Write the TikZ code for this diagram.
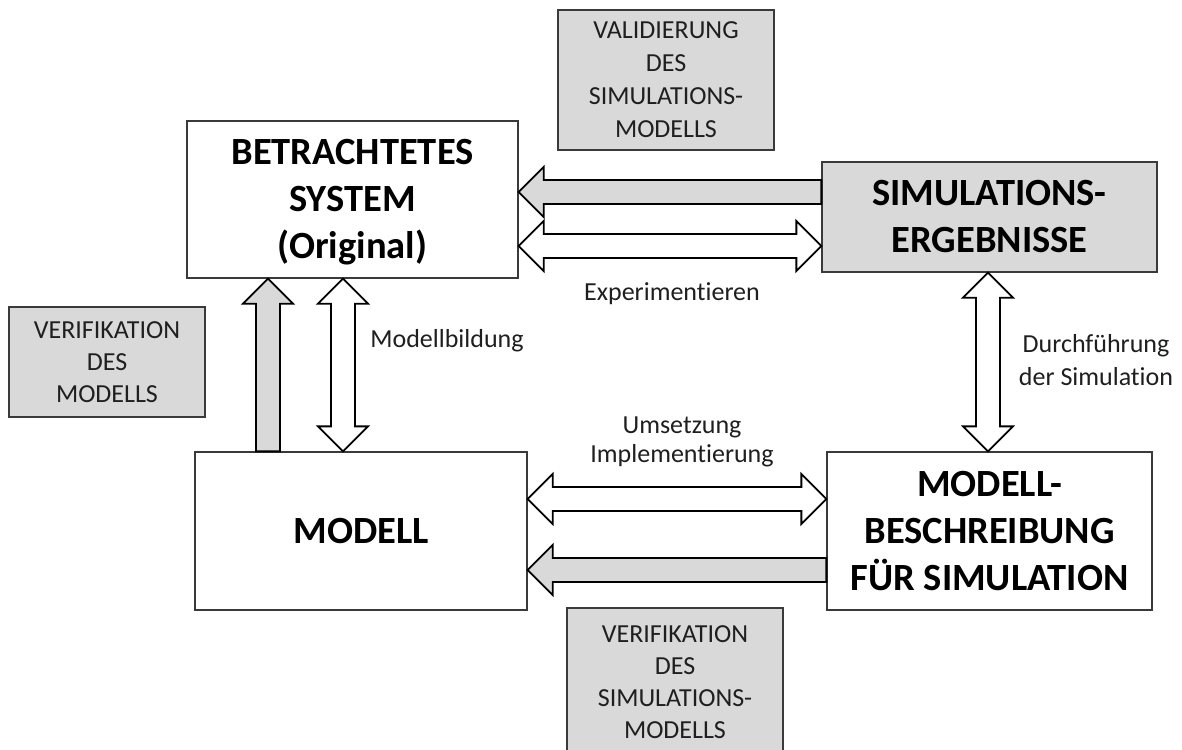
\documentclass[tikz,border=0pt]{standalone}
\usepackage{fontspec}
\setmainfont{Carlito}[Ligatures=NoCommon]
\usetikzlibrary{calc}

\definecolor{boxgray}{HTML}{D9D9D9}
\definecolor{edgegray}{HTML}{3A3A3A}

\newcommand\headfont{\fontsize{38.5}{47}\selectfont\bfseries}
\newcommand\notefont{\fontsize{26}{32}\selectfont}

% outlined block arrow with one head: #1 tail, #2 tip, #3 fill colour
\newcommand\blocksingle[3]{%
  \coordinate (hb) at ($(#2)!25pt!(#1)$);
  \draw[blockarrow, fill=#3] (#2)
    -- ($(hb)!25pt!90:(#2)$) -- ($(hb)!12pt!90:(#2)$)
    -- ($(#1)!12pt!90:(#2)$) -- ($(#1)!12pt!-90:(#2)$)
    -- ($(hb)!12pt!-90:(#2)$) -- ($(hb)!25pt!-90:(#2)$) -- cycle;}

% outlined block arrow with two heads: #1 and #2 are the tips
\newcommand\blockdouble[2]{%
  \coordinate (hbA) at ($(#1)!25pt!(#2)$);
  \coordinate (hbB) at ($(#2)!25pt!(#1)$);
  \draw[blockarrow, fill=white] (#2)
    -- ($(hbB)!25pt!90:(#2)$) -- ($(hbB)!12pt!90:(#2)$)
    -- ($(hbA)!12pt!-90:(#1)$) -- ($(hbA)!25pt!-90:(#1)$)
    -- (#1)
    -- ($(hbA)!25pt!90:(#1)$) -- ($(hbA)!12pt!90:(#1)$)
    -- ($(hbB)!12pt!-90:(#2)$) -- ($(hbB)!25pt!-90:(#2)$) -- cycle;}

\tikzset{
  mainbox/.style={draw=edgegray, line width=1.3pt, align=center, font=\headfont,
    inner sep=0pt, text=black},
  notebox/.style={draw=edgegray, fill=boxgray, line width=1.3pt, align=center,
    font=\notefont, inner sep=0pt, text=black!88},
  lbl/.style={font=\notefont, align=center, text=black!88, inner sep=0pt},
  blockarrow/.style={draw=black, line width=1.8pt, line join=miter},
}

\begin{document}
\begin{tikzpicture}[x=1pt, y=-1pt]
\useasboundingbox (0,0) rectangle (1182,749);
\clip (0,0) rectangle (1182,749);
\fill[white] (0,0) rectangle (1182,749);

% main blocks
\node[mainbox, minimum width=331pt, minimum height=157pt] (betr) at (352.5,199.5)
  {\rule{0pt}{30pt}BETRACHTETES\\SYSTEM\\(Original)};
\node[mainbox, fill=boxgray, minimum width=335pt, minimum height=110pt] (sim) at (989.5,217)
  {SIMULATIONS-\\ERGEBNISSE};
\node[mainbox, minimum width=332pt, minimum height=158pt] (modell) at (361,531)
  {MODELL};
\node[mainbox, minimum width=325pt, minimum height=158pt] (beschr) at (989.5,531)
  {MODELL-\\BESCHREIBUNG\\FÜR SIMULATION};

% grey check boxes
\node[notebox, minimum width=196pt, minimum height=110pt] (verm) at (107,362)
  {VERIFIKATION\\DES\\MODELLS};
\node[notebox, minimum width=216pt, minimum height=140pt, font=\fontsize{26}{33}\selectfont] (valsm) at (666,80)
  {VALIDIERUNG\\DES\\SIMULATIONS-\\MODELLS};
\node[notebox, minimum width=216pt, minimum height=148pt, font=\fontsize{26}{32}\selectfont] (versm) at (675,682)
  {VERIFIKATION\\DES\\SIMULATIONS-\\MODELLS};

% arrow end points
\coordinate (a1t) at (sim.west |- 0,192);
\coordinate (a1h) at (betr.east |- 0,192);
\coordinate (a2l) at (betr.east |- 0,246);
\coordinate (a2r) at (sim.west |- 0,246);
\coordinate (a3t) at (modell.north -| 268,0);
\coordinate (a3h) at (betr.south -| 268,0);
\coordinate (a4u) at (betr.south -| 343,0);
\coordinate (a4d) at (modell.north -| 343,0);
\coordinate (a5u) at (sim.south -| 988,0);
\coordinate (a5d) at (beschr.north -| 988,0);
\coordinate (a6l) at (modell.east |- 0,499);
\coordinate (a6r) at (beschr.west |- 0,499);
\coordinate (a7t) at (beschr.west |- 0,570);
\coordinate (a7h) at (modell.east |- 0,570);

% arrows
\blocksingle{a1t}{a1h}{boxgray}
\blockdouble{a2l}{a2r}
\blocksingle{a3t}{a3h}{boxgray}
\blockdouble{a4u}{a4d}
\blockdouble{a5u}{a5d}
\blockdouble{a6l}{a6r}
\blocksingle{a7t}{a7h}{boxgray}

% arrow labels
\node[lbl, anchor=base] (lexp) at (672,300) {Experimentieren};
\node[lbl, anchor=base] (lmod) at (447,347) {Modellbildung};
\node[lbl, font=\fontsize{26}{29}\selectfont] (limp) at (682,442) {Umsetzung\\Implementierung};
\node[lbl, font=\fontsize{26}{33}\selectfont] (ldur) at (1096,360) {Durchführung\\der Simulation};
\end{tikzpicture}
\end{document}
